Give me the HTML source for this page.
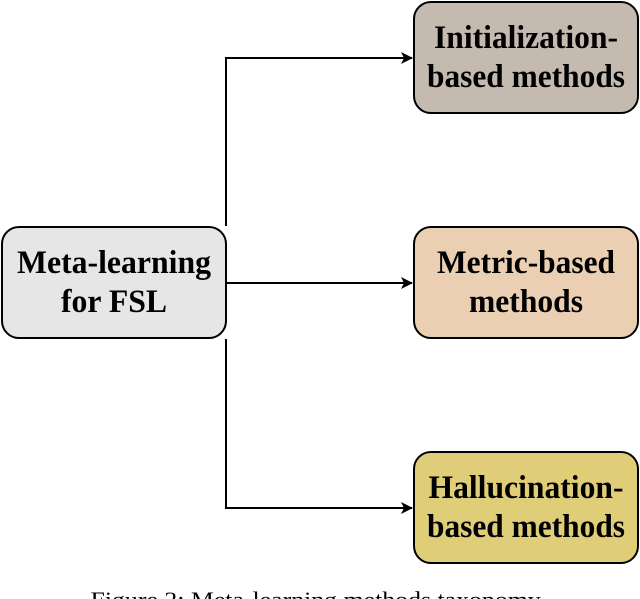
<!DOCTYPE html>
<html><head><style>body{margin:0;background:#fff}svg{display:block}</style></head><body>
<svg width="640" height="599" viewBox="0 0 640 599" xmlns="http://www.w3.org/2000/svg" font-family="Liberation Serif, serif">
<defs><marker id="a" markerWidth="12" markerHeight="12" refX="11" refY="6" orient="auto" markerUnits="userSpaceOnUse"><path d="M0,0 L12,6 L0,12 L3,6 Z" fill="#000"/></marker></defs>
<g stroke="#000" stroke-width="2" fill="none">
<path d="M226,226 V58 H412" marker-end="url(#a)"/>
<path d="M226,283 H412" marker-end="url(#a)"/>
<path d="M226,339 V508 H412" marker-end="url(#a)"/>
</g>
<g stroke="#000" stroke-width="2">
<rect x="2" y="227" width="224" height="111" rx="17" fill="#e6e6e6"/>
<rect x="414" y="2" width="224" height="111" rx="17" fill="#c4bab0"/>
<rect x="414" y="227" width="224" height="111" rx="17" fill="#ebcfb2"/>
<rect x="414" y="452" width="224" height="111" rx="17" fill="#e0cd78"/>
</g>
<g font-weight="bold" font-size="33" text-anchor="middle" fill="#000">
<text x="114" y="273" textLength="194" lengthAdjust="spacingAndGlyphs">Meta-learning</text>
<text x="114" y="312" textLength="106" lengthAdjust="spacingAndGlyphs">for FSL</text>
<text x="526" y="48" textLength="184" lengthAdjust="spacingAndGlyphs">Initialization-</text>
<text x="526" y="87" textLength="198" lengthAdjust="spacingAndGlyphs">based methods</text>
<text x="526" y="273" textLength="178" lengthAdjust="spacingAndGlyphs">Metric-based</text>
<text x="526" y="312" textLength="114" lengthAdjust="spacingAndGlyphs">methods</text>
<text x="526" y="498" textLength="195" lengthAdjust="spacingAndGlyphs">Hallucination-</text>
<text x="526" y="537" textLength="198" lengthAdjust="spacingAndGlyphs">based methods</text>
</g>
<text x="318" y="607" font-size="22" text-anchor="middle" textLength="455" lengthAdjust="spacingAndGlyphs">Figure 2: Meta-learning methods taxonomy.</text>
</svg>
</body></html>
